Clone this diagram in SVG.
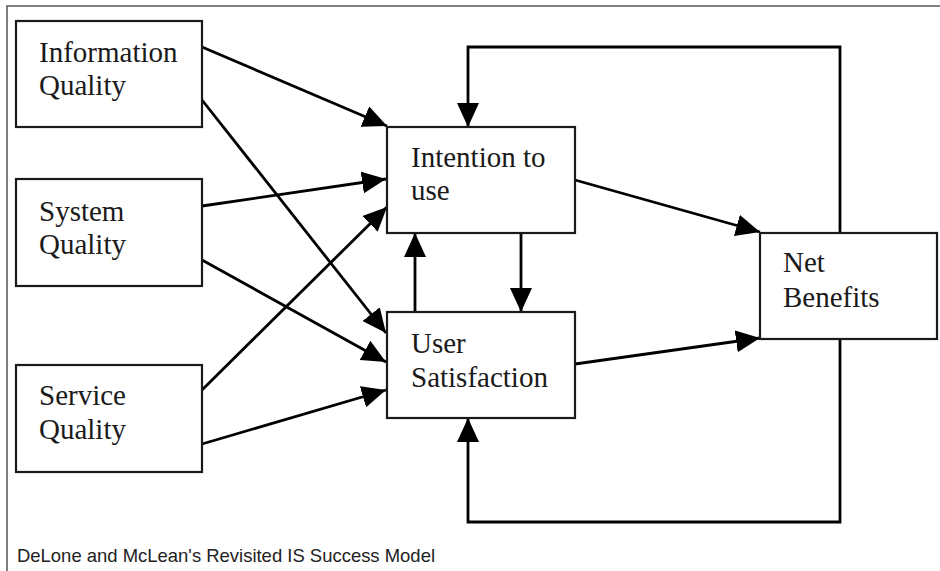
<svg xmlns="http://www.w3.org/2000/svg" width="940" height="571" viewBox="0 0 940 571">
<defs>
<style>
.box{fill:#fff;stroke:#1a1a1a;stroke-width:2.2}
.lbl{font-family:"Liberation Serif","Times New Roman",serif;font-size:29px;fill:#1a1a1a}
.con{fill:none;stroke:#000;stroke-width:2.8}
.arr{marker-end:url(#ah)}
.cap{font-family:"Liberation Sans",Arial,sans-serif;font-size:18.5px;fill:#222}
</style>
<marker id="ah" markerUnits="userSpaceOnUse" markerWidth="26" markerHeight="22" refX="24" refY="11" orient="auto" viewBox="0 0 26 22">
<path d="M0,0 L24,11 L0,22 z" fill="#000"/>
</marker>
</defs>
<rect width="940" height="571" fill="#fff"/>
<path d="M7,571 V6 H940" fill="none" stroke="#555" stroke-width="1.5"/>
<g id="connectors">
<path class="con arr" d="M202,47 L387,126"/>
<path class="con arr" d="M202,100 L386,333"/>
<path class="con arr" d="M202,206 L386,179"/>
<path class="con arr" d="M202,260 L386,362"/>
<path class="con arr" d="M202,390 L387,207"/>
<path class="con arr" d="M202,444 L386,390"/>
<path class="con arr" d="M575,180 L760,232"/>
<path class="con arr" d="M575,364 L760,338"/>
<path class="con arr" d="M521,233 V312"/>
<path class="con arr" d="M415,312 V233"/>
<path class="con arr" d="M840,233 V47 H468 V127"/>
<path class="con arr" d="M840,339 V522 H468 V418"/>
</g>
<g id="info-quality">
<rect class="box" x="16" y="21" width="186" height="106"/>
<text class="lbl" x="39" y="62">Information</text>
<text class="lbl" x="39" y="95">Quality</text>
</g>
<g id="system-quality">
<rect class="box" x="16" y="179" width="186" height="107"/>
<text class="lbl" x="39" y="221">System</text>
<text class="lbl" x="39" y="254">Quality</text>
</g>
<g id="service-quality">
<rect class="box" x="16" y="365" width="186" height="107"/>
<text class="lbl" x="39" y="405">Service</text>
<text class="lbl" x="39" y="439">Quality</text>
</g>
<g id="intention-to-use">
<rect class="box" x="387" y="127" width="188" height="106"/>
<text class="lbl" x="411" y="167">Intention to</text>
<text class="lbl" x="411" y="200">use</text>
</g>
<g id="user-satisfaction">
<rect class="box" x="387" y="312" width="188" height="106"/>
<text class="lbl" x="411" y="353">User</text>
<text class="lbl" x="411" y="387">Satisfaction</text>
</g>
<g id="net-benefits">
<rect class="box" x="760" y="233" width="177" height="106"/>
<text class="lbl" x="783" y="272">Net</text>
<text class="lbl" x="783" y="307">Benefits</text>
</g>
<text class="cap" x="17" y="562" textLength="418" lengthAdjust="spacingAndGlyphs">DeLone and McLean's Revisited IS Success Model</text>
</svg>
